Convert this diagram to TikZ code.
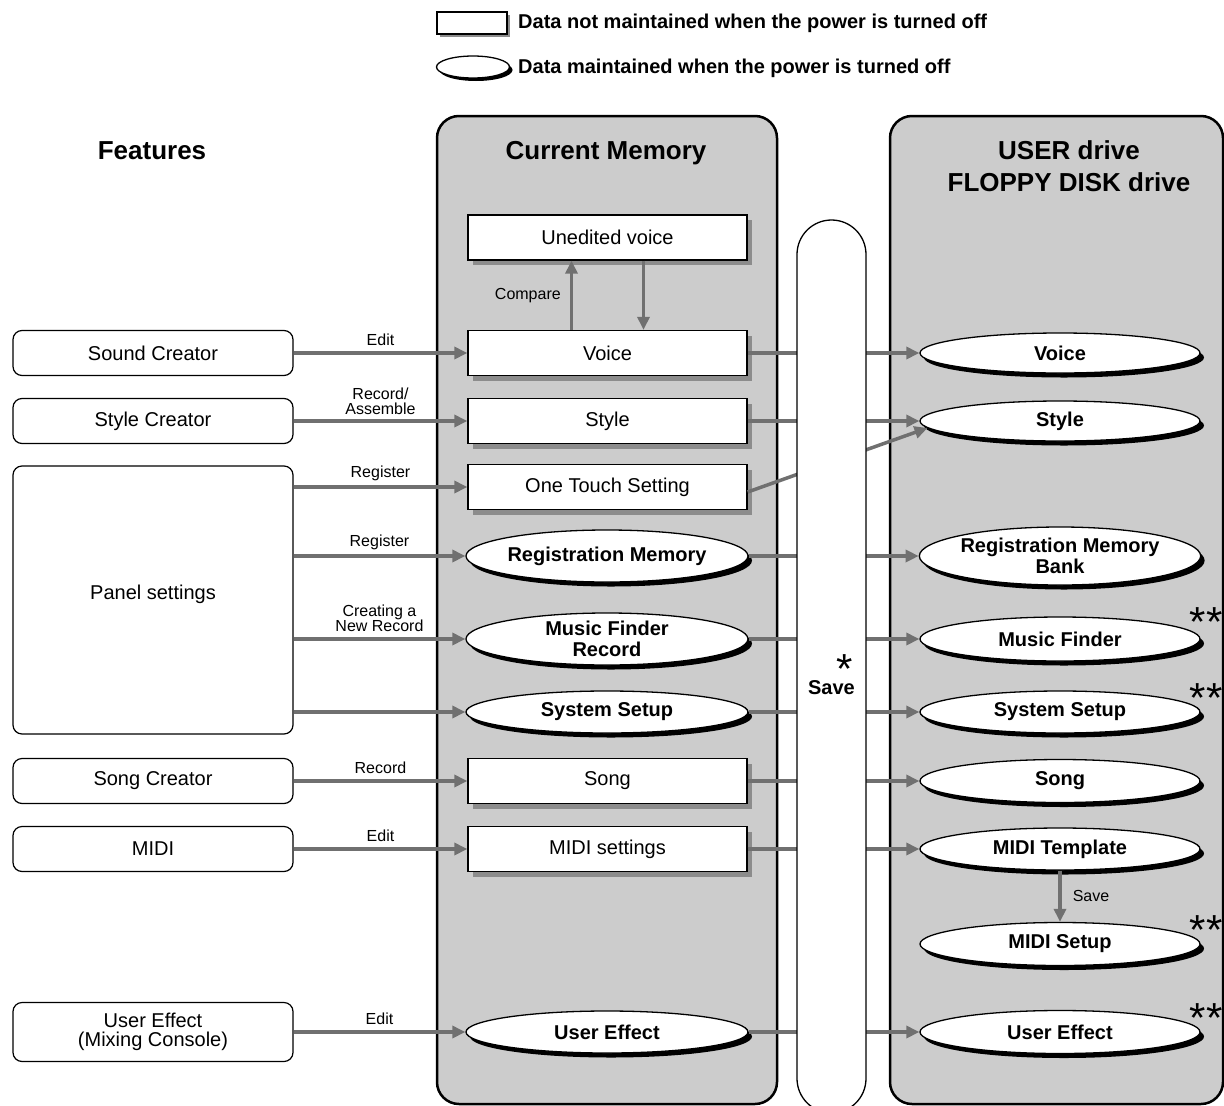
\documentclass[tikz,border=0pt]{standalone}
\usepackage{fontspec}
\setmainfont{Liberation Sans}
\usetikzlibrary{shapes.geometric,shadows,arrows.meta,calc}
\definecolor{panelgray}{RGB}{204,204,204}
\definecolor{linegray}{RGB}{112,112,112}
\definecolor{shadowgray}{RGB}{140,140,140}
\begin{document}
\begin{tikzpicture}[x=1pt,y=-1pt,
  every node/.style={font=\fontsize{20}{22}\selectfont},
  feat/.style={draw, line width=1.2pt, fill=white, rounded corners=9pt, minimum width=280pt, minimum height=45pt, inner sep=0pt, align=center, font=\fontsize{20}{19.5}\selectfont},
  rectshape/.style={draw, line width=1.3pt, fill=white, inner sep=0pt},
  memrect/.style={rectshape, minimum width=279pt, minimum height=45pt, drop shadow={shadow xshift=5pt, shadow yshift=-5pt, fill=shadowgray, opacity=1}},
  ovalshape/.style={ellipse, draw, line width=1.3pt, fill=white, inner sep=0pt, align=center, font=\bfseries\fontsize{20}{21}\selectfont},
  oval/.style={ovalshape, minimum width=280pt, minimum height=42pt, drop shadow={shadow xshift=4pt, shadow yshift=-4.5pt, fill=black, opacity=1}},
  conn/.style={draw=linegray, line width=3.5pt, -{Triangle[length=13pt,width=12pt]}},
  lbl/.style={font=\fontsize{16}{15}\selectfont, align=center, inner sep=2pt},
  title/.style={font=\bfseries\fontsize{26}{32}\selectfont, align=center},
  panel/.style={draw, line width=2.5pt, fill=panelgray, rounded corners=22pt},
  stars/.style={inner sep=0pt, anchor=base, font=\fontsize{42}{42}\selectfont},
  legtext/.style={font=\bfseries\fontsize{20}{22}\selectfont, anchor=west, inner sep=0pt}
]
\useasboundingbox (0,0) rectangle (1224,1106);
\clip (0,0) rectangle (1224,1106);

% legend
\node[rectshape, minimum width=70pt, minimum height=22pt, drop shadow={shadow xshift=3pt, shadow yshift=-3pt, fill=shadowgray, opacity=1}] (legrect) at (472,23) {};
\node[legtext] (legtxt1) at (518,23) {Data not maintained when the power is turned off};
\node[ovalshape, minimum width=73pt, minimum height=22pt, drop shadow={shadow xshift=3pt, shadow yshift=-3pt, fill=black, opacity=1}] (legoval) at (473,67) {};
\node[legtext] (legtxt2) at (518,68) {Data maintained when the power is turned off};

% titles
\node[title] (tfeat) at (152,151) {Features};

% panels
\draw[panel] (437,116) rectangle (777,1104);
\draw[panel] (890,116) rectangle (1223,1104);
\node[title] (tcur) at (606,153) {Current Memory};
\node[title] (tuser) at (1069,166) {USER drive\\FLOPPY DISK drive};

% features
\node[feat] (sc) at (153,353) {Sound Creator};
\node[feat] (stc) at (153,421) {Style Creator};
\node[feat, minimum height=268pt, label={[yshift=6pt]center:Panel settings}] (ps) at (153,600) {};
\node[feat] (songc) at (153,781) {Song Creator};
\node[feat] (midi) at (153,849) {MIDI};
\node[feat, minimum height=59pt] (uef) at (153,1032) {User Effect\\(Mixing Console)};

% current memory
\node[memrect] (uned) at (607.5,237.5) {Unedited voice};
\node[memrect] (voice) at (607.5,353) {Voice};
\node[memrect] (style) at (607.5,421) {Style};
\node[memrect] (ots) at (607.5,487) {One Touch Setting};
\node[oval, minimum width=282pt, minimum height=52pt] (rm) at (607,556) {Registration Memory};
\node[oval, minimum width=282pt, minimum height=52pt] (mfr) at (607,639) {Music Finder\\Record};
\node[oval, minimum width=282pt] (ss) at (607,712) {System Setup};
\node[memrect] (song) at (607.5,781) {Song};
\node[memrect] (midis) at (607.5,849) {MIDI settings};
\node[oval, minimum width=282pt] (uec) at (607,1032) {User Effect};

% drives
\node[oval, minimum height=40pt] (rvoice) at (1060,353) {Voice};
\node[oval, minimum height=40pt] (rstyle) at (1060,421) {Style};
\node[oval, minimum height=58pt] (rrmb) at (1060,556) {Registration Memory\\Bank};
\node[oval, minimum height=44pt] (rmf) at (1060,639) {Music Finder};
\node[oval] (rss) at (1060,712) {System Setup};
\node[oval, minimum height=43pt] (rsong) at (1060,781) {Song};
\node[oval] (rmt) at (1060,849) {MIDI Template};
\node[oval, minimum height=43pt] (rms) at (1060,944) {MIDI Setup};
\node[oval, minimum height=43pt] (rue) at (1060,1032) {User Effect};

% feature -> memory
\draw[conn] (sc.east) -- (voice.west) node[lbl, midway, above=4pt] {Edit};
\draw[conn] (stc.east) -- (style.west) node[lbl, midway, above=3pt] {Record/\\Assemble};
\draw[conn] (ps.east |- ots.west) -- (ots.west) node[lbl, midway, above=2pt] {Register};
\draw[conn] (ps.east |- rm.west) -- (rm.west) node[lbl, midway, above=2pt] {Register};
\draw[conn] (ps.east |- mfr.west) -- (mfr.west) node[lbl, midway, above=4pt] {Creating a\\New Record};
\draw[conn] (ps.east |- ss.west) -- (ss.west);
\draw[conn] (songc.east) -- (song.west) node[lbl, midway, above=4pt] {Record};
\draw[conn] (midi.east) -- (midis.west) node[lbl, midway, above=4pt] {Edit};
\draw[conn] (uef.east) -- (uec.west) node[lbl, midway, above=4pt] {Edit};

% compare
\draw[conn] ([xshift=-36pt]voice.north) -- ([xshift=-36pt]uned.south) node[lbl, midway, left=7pt] {Compare};
\draw[conn] ([xshift=36pt]uned.south) -- ([xshift=36pt]voice.north);

% memory -> drives
\draw[conn] (voice.east) -- (rvoice.west);
\draw[conn] (style.east) -- (rstyle.west);
\draw[conn] ([yshift=-5pt]ots.east) -- (rstyle.183);
\draw[conn] (rm.east) -- (rrmb.west);
\draw[conn] (mfr.east) -- (rmf.west);
\draw[conn] (ss.east) -- (rss.west);
\draw[conn] (song.east) -- (rsong.west);
\draw[conn] (midis.east) -- (rmt.west);
\draw[conn] (uec.east) -- (rue.west);
\draw[conn] (rmt.south) -- (rms.north) node[lbl, midway, right=9pt] {Save};

% save capsule
\draw[line width=1.3pt, fill=white, rounded corners=34.5pt] (797,220) rectangle (866,1113);
\node[font=\bfseries\fontsize{20}{22}\selectfont, inner sep=0pt] (savetxt) at (831.5,688) {Save};
\node[stars] (savestar) at (845,683) {*};

% double stars
\node[stars] (st1) at (1206,636) {**};
\node[stars] (st2) at (1206,712) {**};
\node[stars] (st3) at (1206,944) {**};
\node[stars] (st4) at (1206,1032) {**};
\end{tikzpicture}
\end{document}
